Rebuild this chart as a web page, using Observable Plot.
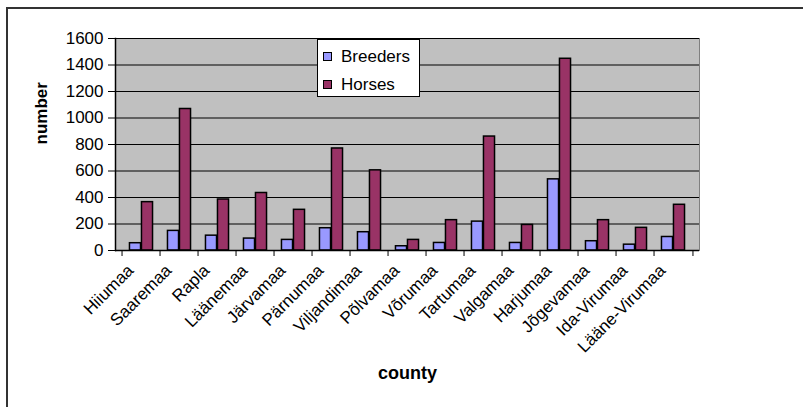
<!DOCTYPE html>
<html>
<head>
<meta charset="utf-8">
<script src="https://cdn.jsdelivr.net/npm/d3@7"></script>
<script src="https://cdn.jsdelivr.net/npm/@observablehq/plot@0.6"></script>
<style>
  html, body { margin: 0; padding: 0; background: #fff; }
  #wrap { position: relative; width: 803px; height: 407px; overflow: hidden; font-family: "Liberation Sans", Arial, sans-serif; }
  #border { position: absolute; left: 6px; top: 7px; width: 800px; height: 410px; border-top: 2px solid #333; border-left: 2px solid #333; pointer-events: none; }
  #legend { position: absolute; left: 317px; top: 39px; width: 101px; height: 56px; background: #fff; border: 1px solid #000; }
  .item { position: absolute; left: 5px; height: 17px; font-size: 17px; line-height: 17px; color: #000; white-space: nowrap; }
  .sw { display: inline-block; width: 7px; height: 7px; border: 1px solid #000; margin-right: 9px; vertical-align: 1px; }
</style>
</head>
<body>
<div id="wrap">
  <div id="chart"></div>
  <div id="border"></div>
  <div id="legend"></div>
</div>
<script>
const counties = ["Hiiumaa","Saaremaa","Rapla","Läänemaa","Järvamaa","Pärnumaa","Viljandimaa","Põlvamaa","Võrumaa","Tartumaa","Valgamaa","Harjumaa","Jõgevamaa","Ida-Virumaa","Lääne-Virumaa"];
const breeders = [55, 148, 112, 90, 80, 168, 138, 32, 57, 218, 57, 537, 70, 44, 102];
const horses = [365, 1068, 385, 434, 307, 770, 605, 80, 229, 860, 193, 1447, 229, 171, 345];
const seriesNames = ["Breeders", "Horses"];
const seriesColors = ["#9999ff", "#993366"];
const yTicks = [0, 200, 400, 600, 800, 1000, 1200, 1400, 1600];

const rows = counties.map((c, i) => ({county: c, breeders: breeders[i], horses: horses[i]}));

const W = 803, H = 407, mL = 115, mR = 104, mT = 38, mB = 157;
const bw = (W - mL - mR) / counties.length;
const barW = 12;
const font = "'Liberation Sans', Arial, sans-serif";

const chart = Plot.plot({
  width: W,
  height: H,
  marginLeft: mL,
  marginRight: mR,
  marginTop: mT,
  marginBottom: mB,
  style: {fontFamily: font, fontSize: "17px", color: "#000", background: "transparent"},
  x: {type: "band", domain: counties, padding: 0, axis: null},
  y: {domain: [0, 1600], axis: null},
  marks: [
    Plot.frame({fill: "#c0c0c0", stroke: "#808080"}),
    Plot.gridY(yTicks, {stroke: "#000", strokeOpacity: 1, strokeWidth: 1}),
    Plot.barY(rows, {x: "county", y: "breeders", fill: seriesColors[0], stroke: "#000", strokeWidth: 1.5, insetLeft: bw / 2 - barW, insetRight: bw / 2}),
    Plot.barY(rows, {x: "county", y: "horses", fill: seriesColors[1], stroke: "#000", strokeWidth: 1.5, insetLeft: bw / 2, insetRight: bw / 2 - barW}),
    Plot.ruleY([0], {stroke: "#000", strokeWidth: 1.5}),
    Plot.frame({anchor: "left", stroke: "#000", strokeWidth: 1.5}),
    Plot.axisY(yTicks, {tickSize: 7, tickPadding: 5, fontSize: 17, tickFormat: d => String(d), label: null, stroke: "#000"}),
    Plot.text(counties, {x: d => d, text: d => d, frameAnchor: "bottom", rotate: -45, textAnchor: "end", dx: -7, dy: 21, fontSize: 17, fill: "#000"}),
    Plot.axisX({tickSize: 6, text: null, dx: -bw / 2, label: null, stroke: "#000"}),
    Plot.axisX([counties[counties.length - 1]], {tickSize: 6, text: null, dx: bw / 2, label: null, stroke: "#000"}),
    Plot.text(["number"], {frameAnchor: "left", text: d => d, rotate: -90, dx: -74, fontSize: 17, fontWeight: "bold", fill: "#000"}),
    Plot.text(["county"], {frameAnchor: "bottom", text: d => d, dy: 128, fontSize: 18, fontWeight: "bold", fill: "#000"})
  ]
});
document.getElementById("chart").appendChild(chart);

const legend = document.getElementById("legend");
seriesNames.forEach((name, i) => {
  const item = document.createElement("div");
  item.className = "item";
  item.style.top = (i === 0 ? 8 : 36) + "px";
  const sw = document.createElement("span");
  sw.className = "sw";
  sw.style.background = seriesColors[i];
  item.appendChild(sw);
  item.appendChild(document.createTextNode(name));
  legend.appendChild(item);
});
</script>
</body>
</html>
